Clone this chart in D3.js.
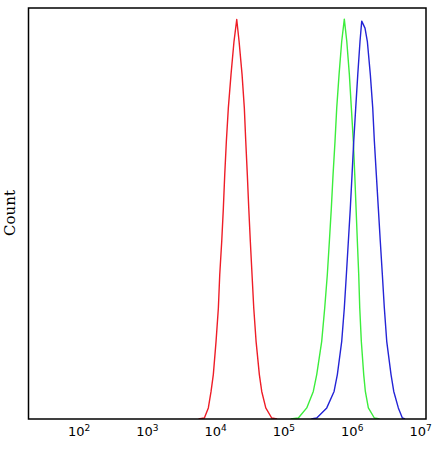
<!DOCTYPE html>
<html><head><meta charset="utf-8">
<script src="https://cdn.jsdelivr.net/npm/d3@7"></script>
<style>html,body{margin:0;padding:0;background:#fff;}</style>
</head><body>
<svg id="c" width="438" height="449"></svg>
<script>
// Exponent of fluorescence intensity (log10) and event count (% of scale)
const redX = [3.75, 3.835, 3.893, 3.933, 3.966, 4.006, 4.040, 4.060, 4.089, 4.113, 4.133, 4.157, 4.186, 4.225, 4.269, 4.309, 4.343, 4.387, 4.420, 4.441, 4.464, 4.485, 4.508, 4.533, 4.558, 4.592, 4.640, 4.675, 4.734, 4.821, 4.90];
const redY = [0, 0.24, 2.7, 6.7, 10.8, 18.9, 27.0, 35.1, 43.2, 51.3, 59.4, 67.6, 75.7, 83.8, 91.9, 97.2, 91.9, 83.8, 75.7, 67.6, 59.4, 51.3, 43.2, 35.1, 27.0, 18.9, 10.8, 6.7, 2.7, 0.24, 0];

const greenX = [5.10, 5.211, 5.334, 5.430, 5.480, 5.553, 5.597, 5.635, 5.665, 5.694, 5.719, 5.748, 5.773, 5.807, 5.846, 5.884, 5.920, 5.958, 5.987, 6.016, 6.037, 6.056, 6.075, 6.095, 6.110, 6.133, 6.168, 6.192, 6.236, 6.324, 6.40];
const greenY = [0, 0.24, 2.7, 6.7, 10.8, 18.9, 27.0, 35.1, 43.2, 51.3, 59.4, 67.6, 75.7, 83.8, 91.9, 97.3, 91.9, 83.8, 75.7, 67.6, 59.4, 51.3, 43.2, 35.1, 27.0, 18.9, 10.8, 6.7, 2.7, 0.24, 0];

const blueX = [5.40, 5.480, 5.627, 5.734, 5.782, 5.846, 5.884, 5.914, 5.943, 5.972, 5.997, 6.022, 6.051, 6.081, 6.114, 6.139, 6.187, 6.221, 6.265, 6.300, 6.324, 6.353, 6.382, 6.411, 6.441, 6.470, 6.505, 6.568, 6.608, 6.675, 6.734, 6.773];
const blueY = [0, 0.24, 2.7, 6.7, 10.8, 18.9, 27.0, 35.1, 43.2, 51.3, 59.4, 67.6, 75.7, 83.8, 91.9, 96.8, 95.1, 91.9, 83.8, 75.7, 67.6, 59.4, 51.3, 43.2, 35.1, 27.0, 18.9, 10.8, 6.7, 2.7, 0.24, 0];

const tickExps = [2, 3, 4, 5, 6, 7];
const yLabel = "Count";

const svg = d3.select("#c");
const L = 28.5, R = 426, T = 8, B = 419;
const x = d3.scaleLinear().domain([1.26, 7.08]).range([L, R]);
const y = d3.scaleLinear().domain([0, 100]).range([B, T]);

svg.append("clipPath").attr("id", "pc").append("rect")
  .attr("x", L).attr("y", T).attr("width", R - L).attr("height", B - T);

const line = d3.line().x(d => x(d[0])).y(d => y(d[1]));
const series = [
  {xs: redX, ys: redY, color: "#ee1d27"},
  {xs: greenX, ys: greenY, color: "#3ced3c"},
  {xs: blueX, ys: blueY, color: "#2424d6"}
];
const g = svg.append("g").attr("clip-path", "url(#pc)");
series.forEach(s => {
  g.append("path")
    .attr("d", line(s.xs.map((v, i) => [v, s.ys[i]])))
    .attr("fill", "none").attr("stroke", s.color).attr("stroke-width", 1.4)
    .attr("stroke-linejoin", "round");
});

// frame
svg.append("rect").attr("x", L).attr("y", T).attr("width", R - L).attr("height", B - T)
  .attr("fill", "none").attr("stroke", "#000").attr("stroke-width", 1.5);

// x tick labels
const ax = svg.append("g").attr("font-family", "DejaVu Sans, Verdana, sans-serif").attr("fill", "#000");
tickExps.forEach(e => {
  const t = ax.append("text").attr("x", x(e)).attr("y", 436)
    .attr("text-anchor", "middle").attr("font-size", 13);
  t.append("tspan").text("10");
  t.append("tspan").attr("dy", -5).attr("font-size", 9).text(String(e));
});

svg.append("text").attr("transform", `translate(15,213) rotate(-90)`)
  .attr("text-anchor", "middle").attr("font-family", "DejaVu Serif, serif")
  .attr("font-size", 15).attr("fill", "#000").text(yLabel);
</script>
</body></html>
